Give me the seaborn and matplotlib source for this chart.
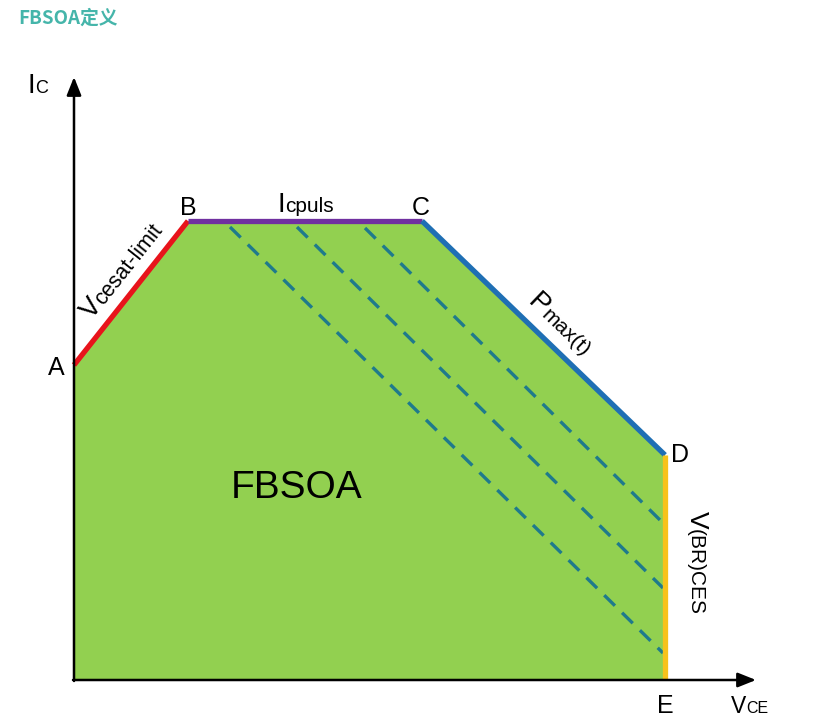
import numpy as np
import pandas as pd
import matplotlib
matplotlib.use('Agg')
import matplotlib.pyplot as plt
import seaborn as sns

# ======================
# DATA (diagram units = pixels, y grows downward)
# ======================
corner_names = ['O', 'A', 'B', 'C', 'D', 'E']
corner_x = [74, 74, 188, 422, 665, 665]
corner_y = [680, 365, 221, 221, 455, 680]

edge_labels = ['Vcesat-limit', 'Icpuls', 'Pmax(t)', 'V(BR)CES']

# constant-power dashed lines inside the SOA
dash_x0 = [230, 297, 365]
dash_y0 = [227, 227, 228]
dash_x1 = [663, 663, 663]
dash_y1 = [653, 588, 523]

# ======================
# STYLE
# ======================
sns.set_theme(style='white')
plt.rcParams['font.family'] = ['Liberation Sans', 'DejaVu Sans']
plt.rcParams['text.color'] = 'black'

W, H = 832, 719
fig = plt.figure(figsize=(W / 100, H / 100), dpi=100)
ax = fig.add_axes([0, 0, 1, 1])
ax.set_xlim(0, W)
ax.set_ylim(H, 0)
ax.axis('off')

corners = pd.DataFrame({'name': corner_names, 'x': corner_x, 'y': corner_y})

# green safe operating area
ax.fill(corners['x'], corners['y'], color='#92d050', lw=0, zorder=1)

# dashed lines
for x0, y0, x1, y1 in zip(dash_x0, dash_y0, dash_x1, dash_y1):
    sns.lineplot(x=[x0, x1], y=[y0, y1], ax=ax, estimator=None, sort=False,
                 color='#1f7a8c', lw=2.4, linestyle=(0, (4.5, 3)), zorder=2)

# boundary edges A-B, B-C, C-D, D-E
edge_colors = ['#e8141b', '#7030a0', '#1f6fb4', '#f7c21b']
for i, col in enumerate(edge_colors):
    seg = corners.iloc[i + 1:i + 3]
    sns.lineplot(data=seg, x='x', y='y', ax=ax, estimator=None, sort=False,
                 color=col, lw=3.8, zorder=3, solid_capstyle='butt')

# axes with arrows
arrow = dict(arrowstyle='-|>,head_length=0.55,head_width=0.22', color='black',
             lw=1.8, shrinkA=0, shrinkB=0, mutation_scale=20)
ax.annotate('', xy=(74, 77), xytext=(74, 681), arrowprops=arrow, zorder=4)
ax.annotate('', xy=(756, 680), xytext=(73, 680), arrowprops=arrow, zorder=4)

# corner letters
letter_pos = {'A': (56, 375), 'B': (188.5, 215), 'C': (421, 215),
              'D': (680, 462), 'E': (665.5, 713)}
for name in corner_names[1:]:
    lx, ly = letter_pos[name]
    ax.text(lx, ly, name, fontsize=18, ha='center', va='baseline', zorder=5)

renderer = fig.canvas.get_renderer()


def sub_label(x, y, big, small, big_size, small_size, rot=0):
    ax.text(x, y, big, fontsize=big_size, rotation=rot, rotation_mode='anchor',
            ha='left', va='baseline', zorder=5)
    probe = ax.text(0, 0, big, fontsize=big_size)
    w = probe.get_window_extent(renderer).width
    probe.remove()
    t = np.deg2rad(rot)
    ax.text(x + w * np.cos(t), y - w * np.sin(t), small, fontsize=small_size,
            rotation=rot, rotation_mode='anchor', ha='left', va='baseline', zorder=5)


sub_label(28, 93, 'I', 'C', 20, 13)
sub_label(731, 713, 'V', 'CE', 16.5, 11.5)
sub_label(277, 212, edge_labels[1][0], edge_labels[1][1:], 20, 15)
sub_label(92, 320, edge_labels[0][0], edge_labels[0][1:], 19.5, 15.5, rot=51.6)
sub_label(527, 303, edge_labels[2][0], edge_labels[2][1:], 20, 15, rot=-43.9)
sub_label(690, 511, edge_labels[3][0], edge_labels[3][1:], 19, 15, rot=-90)

ax.text(296.5, 498, 'FBSOA', fontsize=28, ha='center', va='baseline', zorder=5)

ax.text(18, 24, 'FBSOA定义', fontsize=13.5, fontweight='bold', color='#45b5aa',
        family=['Noto Sans CJK SC', 'DejaVu Sans'], ha='left', va='baseline')

ax.set_xlim(0, W)
ax.set_ylim(H, 0)
fig.savefig('out.png', dpi=100)
